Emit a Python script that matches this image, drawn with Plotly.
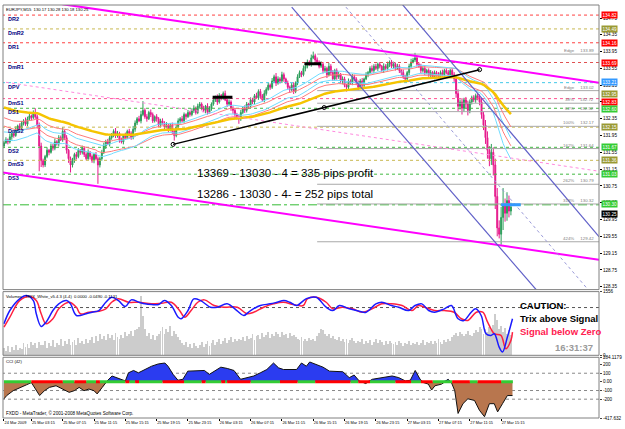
import numpy as np
import plotly.graph_objects as go

# ---------------- data ----------------
symbol_title = "EURJPY,M15  130.17 130.28 130.18 130.25"
x_tick_bars = [0, 14, 30, 46, 62, 78, 94, 110, 126, 142, 158, 174, 190, 206, 222, 238, 254]
x_tick_labels = ["24 Mar 2009", "25 Mar 03:15", "25 Mar 07:15", "25 Mar 11:15", "25 Mar 15:15",
                 "25 Mar 19:15", "25 Mar 23:15", "26 Mar 03:15", "26 Mar 07:15", "26 Mar 11:15",
                 "26 Mar 15:15", "26 Mar 19:15", "26 Mar 23:15", "27 Mar 03:15", "27 Mar 07:15",
                 "27 Mar 11:15", "27 Mar 15:15"]

first_open = 131.70
closes = [
    131.78, 131.85, 131.80, 131.92, 132.00, 131.95, 132.10, 132.18, 132.12, 132.25,
    132.30, 132.22, 132.35, 132.42, 132.38, 132.48, 132.40, 132.20, 131.70, 131.35,
    131.25, 131.45, 131.60, 131.55, 131.70, 131.65, 131.80, 131.75, 131.90, 131.85,
    132.05, 131.90, 131.60, 131.40, 131.25, 131.35, 131.50, 131.45, 131.60, 131.55,
    131.65, 131.50, 131.40, 131.55, 131.45, 131.35, 131.50, 131.40, 131.25, 131.40,
    131.55, 131.70, 131.80, 131.75, 131.90, 131.95, 132.05, 131.95, 132.00, 131.85,
    131.80, 131.95, 131.90, 132.05, 132.00, 131.90, 132.10, 132.25, 132.35, 132.30,
    132.45, 132.55, 132.40, 132.35, 132.50, 132.45, 132.30, 132.40, 132.35, 132.20,
    132.30, 132.25, 132.15, 132.20, 132.10, 132.20, 132.05, 131.95, 132.15, 132.30,
    132.35, 132.30, 132.45, 132.40, 132.50, 132.45, 132.55, 132.60, 132.50, 132.65,
    132.70, 132.60, 132.55, 132.65, 132.50, 132.60, 132.70, 132.80, 132.85, 132.75,
    132.90, 132.85, 132.95, 132.80, 132.70, 132.75, 132.60, 132.55, 132.45, 132.40,
    132.35, 132.50, 132.60, 132.55, 132.70, 132.65, 132.80, 132.75, 132.90, 132.85,
    133.00, 132.90, 132.80, 132.95, 133.05, 133.15, 133.10, 133.25, 133.35, 133.20,
    133.30, 133.25, 133.40, 133.30, 133.20, 133.10, 133.05, 133.15, 133.00, 133.20,
    133.35, 133.45, 133.40, 133.55, 133.60, 133.70, 133.65, 133.80, 133.85, 133.75,
    133.70, 133.60, 133.65, 133.50, 133.55, 133.40, 133.60, 133.45, 133.30, 133.50,
    133.35, 133.40, 133.25, 133.30, 133.15, 133.10, 133.25, 133.20, 133.35, 133.30,
    133.20, 133.10, 133.25, 133.15, 133.30, 133.40, 133.45, 133.55, 133.50, 133.60,
    133.55, 133.65, 133.60, 133.50, 133.60, 133.55, 133.65, 133.70, 133.60, 133.65,
    133.55, 133.60, 133.50, 133.45, 133.35, 133.30, 133.45, 133.60, 133.70, 133.75,
    133.80, 133.65, 133.60, 133.50, 133.55, 133.45, 133.50, 133.40, 133.45, 133.35,
    133.45, 133.40, 133.35, 133.45, 133.40, 133.50, 133.45, 133.40, 133.50, 133.40,
    133.30, 132.95, 132.65, 132.75, 132.60, 132.80, 132.70, 132.55, 132.75, 132.85,
    132.80, 132.90, 132.85, 132.75, 132.45, 132.20, 131.90, 131.60, 131.40, 131.55,
    131.25, 130.50, 129.75, 129.60, 130.00, 130.30, 130.10, 130.40, 130.15, 130.25,
]
up_wick_pips = [
    4, 6, 3, 8, 5, 4, 7, 3, 6, 5, 4, 8, 5, 6, 3, 7, 12, 5, 6, 8,
    5, 4, 7, 3, 6, 5, 8, 4, 6, 5, 10, 4, 6, 3, 5, 7, 4, 6, 5, 3,
    6, 4, 5, 7, 3, 5, 4, 6, 5, 4, 6, 8, 5, 7, 4, 6, 5, 8, 6, 4,
    5, 3, 7, 4, 6, 5, 8, 6, 4, 7, 9, 22, 5, 6, 4, 7, 5, 3, 6, 4,
    5, 6, 4, 7, 3, 5, 6, 4, 5, 6, 4, 7, 5, 3, 6, 4, 5, 7, 4, 6,
    5, 4, 6, 3, 7, 5, 4, 6, 5, 8, 6, 4, 5, 7, 3, 6, 4, 5, 6, 4,
    5, 6, 4, 7, 5, 3, 6, 5, 4, 7, 5, 6, 4, 8, 5, 6, 4, 7, 5, 9,
    6, 4, 7, 5, 3, 6, 4, 5, 7, 4, 6, 5, 4, 7, 5, 6, 4, 8, 10, 5,
    6, 4, 7, 5, 6, 4, 8, 5, 6, 4, 5, 7, 4, 6, 5, 3, 6, 4, 7, 5,
    4, 6, 5, 7, 3, 6, 4, 5, 7, 5, 6, 4, 5, 3, 7, 5, 6, 4, 5, 6,
    4, 6, 5, 3, 7, 5, 4, 6, 8, 5, 12, 5, 4, 6, 5, 7, 4, 5, 6, 4,
    5, 4, 6, 5, 7, 4, 5, 6, 4, 5, 6, 8, 10, 6, 9, 5, 7, 8, 6, 5,
    6, 5, 7, 8, 10, 6, 12, 15, 10, 20, 12, 15, 20, 18, 25, 40, 15, 20, 12, 10,
]
down_wick_pips = [
    5, 3, 6, 4, 7, 5, 3, 6, 4, 5, 6, 4, 5, 3, 7, 4, 5, 8, 60, 15,
    6, 5, 4, 7, 3, 6, 5, 4, 6, 3, 5, 6, 8, 10, 18, 6, 5, 7, 4, 6,
    5, 6, 4, 3, 7, 5, 6, 4, 45, 6, 5, 4, 7, 3, 6, 5, 4, 6, 5, 7,
    4, 6, 5, 3, 7, 5, 4, 6, 5, 3, 6, 4, 5, 7, 3, 6, 5, 4, 7, 5,
    6, 4, 5, 3, 7, 5, 6, 12, 4, 5, 6, 4, 5, 7, 3, 5, 4, 6, 5, 4,
    6, 5, 4, 7, 5, 3, 6, 4, 5, 7, 4, 6, 5, 3, 7, 5, 6, 8, 10, 7,
    12, 5, 4, 6, 5, 7, 4, 5, 6, 3, 5, 7, 4, 6, 5, 3, 6, 4, 5, 7,
    4, 6, 5, 7, 3, 6, 8, 5, 6, 4, 5, 3, 6, 4, 7, 5, 4, 6, 3, 5,
    6, 5, 4, 7, 5, 8, 4, 6, 5, 4, 7, 5, 6, 8, 5, 10, 6, 4, 5, 6,
    5, 7, 4, 6, 5, 3, 6, 4, 5, 7, 4, 6, 5, 3, 6, 4, 5, 7, 4, 6,
    5, 4, 6, 7, 5, 8, 4, 6, 5, 3, 5, 6, 4, 7, 5, 6, 4, 5, 7, 4,
    6, 5, 4, 7, 5, 6, 4, 5, 6, 8, 7, 10, 12, 8, 15, 9, 10, 12, 7, 6,
    5, 7, 6, 8, 10, 12, 15, 20, 18, 15, 25, 30, 20, 10, 25, 30, 20, 18, 15, 10,
]
volumes = [
    180, 120, 240, 90, 210, 150, 260, 130, 200, 170, 310, 220, 280, 190, 340, 250, 300, 180, 330, 270,
    260, 350, 200, 300, 240, 380, 210, 320, 270, 400, 230, 360, 290, 410, 250, 330, 380, 270, 440, 300,
    350, 280, 420, 320, 380, 450, 300, 480, 360, 520, 410, 470, 390, 540, 430, 500, 380, 560, 450, 420,
    510, 440, 580, 470, 530, 600, 490, 620, 650, 700, 1450, 980, 640, 480, 560, 420, 510, 390, 470, 540,
    600, 700, 520, 640, 580, 720, 490, 610, 530, 450, 380, 300, 260, 330, 220, 280, 190, 310, 240, 200,
    260, 330, 220, 290, 350, 240, 300, 380, 270, 340, 410, 290, 360, 430, 310, 380, 450, 330, 400, 360,
    420, 380, 460, 350, 490, 400, 440, 520, 380, 470, 500, 420, 550, 460, 510, 580, 440, 530, 490, 570,
    520, 460, 590, 500, 540, 430, 560, 480, 510, 450, 420, 380, 460, 350, 410, 370, 440, 390, 420, 360,
    480, 560, 650, 620, 540, 470, 520, 430, 490, 400, 380, 450, 360, 420, 340, 400, 320, 380, 440, 350,
    300, 370, 330, 410, 280, 360, 310, 390, 270, 340, 420, 300, 380, 330, 260, 350, 290, 370, 310, 280,
    330, 270, 350, 300, 240, 320, 280, 360, 250, 310, 290, 340, 260, 310, 380, 270, 330, 300, 350, 280,
    360, 310, 400, 340, 290, 380, 330, 420, 370, 450, 500, 560, 480, 590, 520, 470, 540, 600, 510, 480,
    550, 620, 580, 700, 660, 520, 640, 580, 700, 620, 760, 1020, 860, 640, 720, 580, 680, 540, 620, 500,
]

# moving averages (EMA periods) and their starting values read at the left edge
ema_fast_span, ema_mid_span, ema_slow_span = 34, 45, 89
ema_fast_seed_high, ema_fast_seed_low = 132.05, 131.85
ema_mid_seed_high, ema_mid_seed_low = 132.40, 132.20
ema_slow_seed = 132.64

# daily pivots
pivot_names = ["DR2", "DmR2", "DR1", "DmR1", "DPV", "DmS1", "DS1", "DmS2", "DS2", "DmS3", "DS3"]
pivot_prices = [134.82, 134.49, 134.16, 133.69, 133.21, 132.83, 132.60, 132.15, 131.67, 131.36, 131.03]
pivot_colors = ["#ff4040", "#c8b850", "#ff4040", "#e05050", "#40c8e8", "#ff5090",
                "#40b840", "#c8b850", "#40b840", "#c8b850", "#40b840"]

# price tags on the right scale
tag_prices = [134.82, 134.49, 134.16, 133.69, 133.21, 132.95, 132.83, 132.60, 132.15, 131.67, 131.36, 131.03, 130.30, 130.25]
tag_colors = ["#ff0000", "#999933", "#ff0000", "#ff0000", "#3399ff", "#999933", "#ff0000",
              "#33cc33", "#999933", "#33cc33", "#999933", "#33cc33", "#33cc33", "#000000"]
tag_shift = [0, 0, 0, 0, 1, 0, -3, -1, 0, 0, 0, 0, 1, -7]

# fibonacci expansion levels
fib_names = ["Edge", "Edge", "38%", "62%", "100%", "162%", "262%", "318%", "424%"]
fib_prices = [133.89, 133.02, 132.72, 132.52, 132.17, 131.64, 130.79, 130.32, 129.42]
fib_start_bar = 160

trade_level = 130.30

# drawn trend lines: (bar0, price0, bar1, price1)
magenta_upper = (29.8, 135.08, 304, 133.21)
magenta_lower = (-2, 131.08, 304, 128.99)
pink_dotted = (-2, 133.24, 304, 131.10)
black_trend = (86.4, 131.74, 243, 133.52)
black_trend_marks_bar = [86.4, 163.6, 243]
blue_channel_a = (147, 135.01, 273.2, 128.21)
blue_channel_b = (202.5, 135.13, 304, 129.54)
blue_channel_mid = (174.7, 135.01, 297.5, 128.33)
black_marks = [(106.6, 116.7, 132.86), (153.5, 162.0, 133.66)]
blue_mark = (254, 264, 130.30)

profit_lines = ["13369 - 13030 - 4 = 335 pips profit", "13286 - 13030 - 4- = 252 pips total"]
profit_bar = 98
profit_prices = [131.05, 130.56]

# TRIX / signal readings
trix_bars = [0, 3, 8, 11.5, 15, 16.5, 19, 21.5, 25, 28, 32, 34, 37, 42, 45, 48.5, 52, 55, 58.5, 62,
             65, 69, 72, 75.5, 79, 82, 85.5, 89, 90.5, 94, 97, 100.5, 105.5, 109, 114, 119, 122.5, 126, 131, 136,
             139.5, 143, 146, 149.5, 154.5, 159.5, 164.6, 168, 171.4, 176.4, 180, 185, 190, 193, 198, 201.7, 206.7, 210, 213.5, 217,
             220, 225, 228.6, 232, 235, 238.7, 241, 243.8, 246.3, 248.8, 250.5, 253, 254.7, 257.2, 259.8]
trix_vals = [-16.3, -3, 8.7, 12, 7, -6.3, -19, -14.7, -3, 3.7, 7, 3.7, -8, -6.3, -4.7, -3, 5.3, 10.3, 7, 1,
             7.7, 5.3, 3.7, 3, 3, 7, 2, -9.7, -11.3, -3, 8.7, 7, 0.3, 0.3, 3.7, -3, -8, -3, 2, 3.7,
             5.3, 7, 5.3, 2, 9, 10.3, 0.3, -3, 2, -1.3, -3, -4.7, 3.7, 5.3, 2, 0.3, -3, 2, 3.7, -3,
             -4.7, -1.3, 2, -11.3, -13, -4.7, -1.3, -8, -26.3, -28, -26.3, -39.7, -44.7, -29.7, -11.3]
sig_bars = [0, 3, 8, 13, 16.5, 19, 21.5, 25, 28, 33.3, 37, 39, 43.4, 48.5, 52, 55, 58.5, 63.6, 68.7, 75.4,
            80.5, 85.5, 89.7, 92.3, 95.6, 99, 102.4, 107.4, 112.5, 119.2, 124.2, 127.6, 132.7, 137.7, 142.8, 147.8, 152.9, 155, 159.6, 164.6,
            168, 173, 178, 183, 188, 193, 198, 203.4, 208.4, 211.8, 215, 220, 225, 230, 233.7, 237, 241.3, 244.6, 247.1, 250.5,
            253.9, 256.4, 259, 259.8]
sig_vals = [-19.7, -9.7, 7, 11, 7, -6.3, -16.3, -11.3, -1.3, 5.3, 0.3, -6.3, -4.7, -3.7, -1.3, 5.3, 8.7, 5.3, 5.3, 3.7,
            4.3, 5.3, -3, -9.7, -3, 5.3, 7.7, 2, 0.3, 0.3, -6.3, -4.7, 0.3, 3.7, 5.3, 3, 2, 8.7, 10.3, 5.3,
            -1.3, 0.3, -1.3, -4.7, -1.3, 3.7, 3.7, 2, -3, 2, 0.3, -3, -3, -4.7, -11.3, -13, -4.7, -4.7, -14.7, -26.3,
            -28, -41.3, -33, -24.7]
volume_max_label = 1556

# CCI(42) readings
cci_bars = [0, 1.4, 4.7, 8.1, 11.5, 14, 15.7, 18.2, 20.7, 23.2, 26.6, 30, 33.3, 35.9, 38.4, 40.9, 43.4, 46, 47.6, 50.2,
            52.7, 55.2, 57.7, 60.3, 62, 63.6, 66.2, 68.7, 72, 75.4, 78.8, 82.2, 83.8, 86.4, 88.9, 91.4, 93.9, 99, 102.4, 104.9,
            107.4, 110.8, 114.1, 117.5, 120.9, 124.2, 127.6, 131, 134.3, 137.7, 140.3, 142.8, 146.1, 149.5, 152, 154.5, 156.2, 159.6, 163, 166.3,
            169.7, 173.1, 176.4, 178.9, 181.5, 184.8, 188.2, 193.3, 198.3, 201.7, 205.1, 207.6, 210.1, 212.6, 214.3, 216.8, 218.5, 220.2, 223.6, 226.9,
            228.6, 230.3, 232, 234.5, 237, 240.4, 242.9, 245.5, 248, 250.5, 252.2, 254.7, 257.2, 259.8]
cci_vals = [-196, -158, -102, -64, -34, -8, -64, -158, -102, -64, -45, -83, -121, -102, -64, -102, -83, -102, -139, -64,
            11, 68, 49, 30, 11, 105, 132, 105, 143, 181, 207, 218, 181, 87, 19, 30, 124, 132, 132, 87,
            124, 170, 155, 132, 30, 49, 68, 105, 143, 218, 162, 143, 143, 143, 218, 181, 230, 200, 170, 124,
            124, 117, 49, 79, 11, -19, 30, 49, 68, 49, 11, 19, 132, 30, -8, -26, -94, -45, -26, 30,
            -8, -102, -365, -252, -196, -215, -328, -403, -252, -252, -347, -252, -158, -158]
cci_top, cci_bottom = 284.1179, -417.632
cci_band_starts = [0, 14, 30, 36, 42, 47, 49, 62, 64, 67, 69, 81, 92, 101, 103, 111, 113, 114, 126, 141,
                   150, 159, 177, 181, 187, 200, 208, 213, 219, 229, 238, 242, 254]
cci_band_end = 260

# ---------------- derived ----------------
n = len(closes)
bars = np.arange(n)
c = np.array(closes)
o = np.array([first_open] + closes[:-1])
hi = np.maximum(o, c) + np.array(up_wick_pips) * 0.01
lo = np.minimum(o, c) - np.array(down_wick_pips) * 0.01


def ema(series, span, seed):
    a = 2.0 / (span + 1)
    out, e = [], seed
    for v in series:
        e = e + a * (v - e)
        out.append(e)
    return out


FONT = "Liberation Sans, Arial, sans-serif"
W, H = 625, 429
ML, MR, MT, MB = 3, 19, 3, 11
PH = H - MT - MB
PW = W - ML - MR


def frac(ypix):
    return (H - MB - ypix) / PH


dom_price = [frac(289), 1.0]
dom_vol = [frac(355), frac(291)]
dom_cci = [0.0, frac(357)]
X_RANGE = [-0.5, 304]

fig = go.Figure()


def seg(p, **kw):
    return go.Scatter(x=[p[0], p[2]], y=[p[1], p[3]], mode="lines", hoverinfo="skip",
                      showlegend=False, **kw)


# pivot lines
for name, pr, col in zip(pivot_names, pivot_prices, pivot_colors):
    fig.add_trace(go.Scatter(x=[-1, 305], y=[pr, pr], mode="lines", line=dict(color=col, width=1, dash="dot"),
                             hoverinfo="skip", showlegend=False))
# trade level
fig.add_trace(go.Scatter(x=[-1, 305], y=[trade_level, trade_level], mode="lines",
                         line=dict(color="#33bb33", width=1, dash="dashdot"), hoverinfo="skip", showlegend=False))
# fib lines
for pr in fib_prices:
    fig.add_trace(go.Scatter(x=[fib_start_bar, 305], y=[pr, pr], mode="lines",
                             line=dict(color="#a8a8a8", width=1), hoverinfo="skip", showlegend=False))

# candles
fig.add_trace(go.Candlestick(x=bars, open=o, high=hi, low=lo, close=c,
                             increasing=dict(line=dict(color="#2e9e5b", width=1), fillcolor="#2e9e5b"),
                             decreasing=dict(line=dict(color="#e6198c", width=1), fillcolor="#e6198c"),
                             whiskerwidth=0, hoverinfo="skip", showlegend=False))

# moving averages
fig.add_trace(go.Scatter(x=bars, y=ema(hi, ema_mid_span, ema_mid_seed_high), mode="lines",
                         line=dict(color="#ff7a7a", width=1), hoverinfo="skip", showlegend=False))
fig.add_trace(go.Scatter(x=bars, y=ema(lo, ema_mid_span, ema_mid_seed_low), mode="lines",
                         line=dict(color="#ff7a7a", width=1), hoverinfo="skip", showlegend=False))
fig.add_trace(go.Scatter(x=bars, y=ema(hi, ema_fast_span, ema_fast_seed_high), mode="lines",
                         line=dict(color="#70dcff", width=1), hoverinfo="skip", showlegend=False))
fig.add_trace(go.Scatter(x=bars, y=ema(lo, ema_fast_span, ema_fast_seed_low), mode="lines",
                         line=dict(color="#70dcff", width=1), hoverinfo="skip", showlegend=False))
fig.add_trace(go.Scatter(x=bars, y=ema(c, ema_slow_span, ema_slow_seed), mode="lines",
                         line=dict(color="#f5c400", width=2.5), hoverinfo="skip", showlegend=False))

# drawn lines
fig.add_trace(seg(pink_dotted, line=dict(color="#ff88dd", width=1, dash="dot")))
fig.add_trace(seg(magenta_upper, line=dict(color="#ff00ff", width=2)))
fig.add_trace(seg(magenta_lower, line=dict(color="#ff00ff", width=2)))
fig.add_trace(seg(blue_channel_a, line=dict(color="#6060c8", width=1.2)))
fig.add_trace(seg(blue_channel_b, line=dict(color="#6060c8", width=1.2)))
fig.add_trace(seg(blue_channel_mid, line=dict(color="#9a9ad8", width=1, dash="dot")))
fig.add_trace(seg(black_trend, line=dict(color="#000000", width=1.5)))
bt_slope = (black_trend[3] - black_trend[1]) / (black_trend[2] - black_trend[0])
fig.add_trace(go.Scatter(x=black_trend_marks_bar,
                         y=[black_trend[1] + bt_slope * (b - black_trend[0]) for b in black_trend_marks_bar],
                         mode="markers", marker=dict(symbol="circle-open", size=4, color="#000000", line=dict(width=1)),
                         hoverinfo="skip", showlegend=False))
for b0, b1, pr in black_marks:
    fig.add_trace(go.Scatter(x=[b0, b1], y=[pr, pr], mode="lines", line=dict(color="#000000", width=3),
                             hoverinfo="skip", showlegend=False))
fig.add_trace(go.Scatter(x=[blue_mark[0], blue_mark[1]], y=[blue_mark[2], blue_mark[2]], mode="lines",
                         line=dict(color="#3399ff", width=3), hoverinfo="skip", showlegend=False))

# volume + TRIX panel
fig.add_trace(go.Bar(x=bars, y=volumes, marker=dict(color="#cccccc", line=dict(width=0)), width=0.45,
                     yaxis="y2", hoverinfo="skip", showlegend=False))
fig.add_trace(go.Scatter(x=[-1, 305], y=[0, 0], mode="lines", line=dict(color="#555555", width=1, dash="dot"),
                         yaxis="y4", hoverinfo="skip", showlegend=False))
fig.add_trace(go.Scatter(x=sig_bars, y=sig_vals, mode="lines", line=dict(color="#ff2040", width=1.5, shape="spline"),
                         yaxis="y4", hoverinfo="skip", showlegend=False))
fig.add_trace(go.Scatter(x=trix_bars, y=trix_vals, mode="lines", line=dict(color="#1a1aff", width=1.5, shape="spline"),
                         yaxis="y4", hoverinfo="skip", showlegend=False))

# CCI panel
cci_arr = np.array(cci_vals, dtype=float)
for lvl in [100, -100, -200]:
    fig.add_trace(go.Scatter(x=[-1, 305], y=[lvl, lvl], mode="lines", line=dict(color="#888888", width=1, dash="dot"),
                             yaxis="y3", hoverinfo="skip", showlegend=False))
fig.add_trace(go.Scatter(x=cci_bars, y=np.maximum(cci_arr, 0), mode="lines", fill="tozeroy",
                         fillcolor="#2b3cf0", line=dict(width=0), yaxis="y3", hoverinfo="skip", showlegend=False))
fig.add_trace(go.Scatter(x=cci_bars, y=np.minimum(cci_arr, 0), mode="lines", fill="tozeroy",
                         fillcolor="#b8764e", line=dict(width=0), yaxis="y3", hoverinfo="skip", showlegend=False))
fig.add_trace(go.Scatter(x=cci_bars, y=cci_arr, mode="lines", line=dict(color="#111111", width=1),
                         yaxis="y3", hoverinfo="skip", showlegend=False))
gx, gy, rx, ry = [], [], [], []
ends = cci_band_starts[1:] + [cci_band_end]
for k, (s, e) in enumerate(zip(cci_band_starts, ends)):
    if k % 2 == 0:
        gx += [s, e, None]; gy += [0, 0, None]
    else:
        rx += [s, e, None]; ry += [0, 0, None]
fig.add_trace(go.Scatter(x=gx, y=gy, mode="lines", line=dict(color="#33cc33", width=3), yaxis="y3",
                         hoverinfo="skip", showlegend=False))
fig.add_trace(go.Scatter(x=rx, y=ry, mode="lines", line=dict(color="#ff0000", width=3), yaxis="y3",
                         hoverinfo="skip", showlegend=False))

# ---------------- annotations ----------------
ann = []
ann.append(dict(text=symbol_title, xref="paper", yref="paper", x=0.004, y=1, xanchor="left", yanchor="top",
                showarrow=False, font=dict(family=FONT, size=4.2, color="#000000"), borderpad=0, yshift=-1))
for name, pr in zip(pivot_names, pivot_prices):
    ann.append(dict(text="<b>" + name + "</b>", xref="paper", yref="y", x=0.006, y=pr, xanchor="left",
                    yanchor="top", showarrow=False, font=dict(family=FONT, size=5.5, color="#000080"), borderpad=0))
for pr, col, sh in zip(tag_prices, tag_colors, tag_shift):
    ann.append(dict(text=f"{pr:.2f}", xref="paper", yref="y", x=1, y=pr, xanchor="left", yanchor="middle",
                    showarrow=False, bgcolor=col, font=dict(family=FONT, size=4.6, color="#ffffff"),
                    borderpad=0.5, xshift=2, yshift=sh))
for name, pr in zip(fib_names, fib_prices):
    ann.append(dict(text=f"{name}&nbsp;&nbsp;&nbsp;&nbsp;&nbsp;{pr:.2f}", xref="x", yref="y", x=302, y=pr,
                    xanchor="right", yanchor="bottom", showarrow=False,
                    font=dict(family=FONT, size=4.4, color="#808080"), borderpad=0))
for txt, pr in zip(profit_lines, profit_prices):
    ann.append(dict(text=txt, xref="x", yref="y", x=profit_bar, y=pr, xanchor="left", yanchor="middle",
                    showarrow=False, font=dict(family=FONT, size=11.5, color="#000000"), borderpad=0))
ann.append(dict(text="Volumes   TRIX_White_v5.4.3 (4-4)  0.0000 -0.0490 -0.1131", xref="paper", yref="paper",
                x=0.004, y=dom_vol[1], xanchor="left", yanchor="top", showarrow=False,
                font=dict(family=FONT, size=4.2, color="#000000"), borderpad=0, yshift=-1))
ann.append(dict(text="CCI (42)", xref="paper", yref="paper", x=0.004, y=dom_cci[1], xanchor="left",
                yanchor="top", showarrow=False, font=dict(family=FONT, size=4.2, color="#000000"), borderpad=0, yshift=-1))
ann.append(dict(text="FXDD - MetaTrader, © 2001-2008 MetaQuotes Software Corp.", xref="paper", yref="paper",
                x=0.004, y=0, xanchor="left", yanchor="bottom", showarrow=False,
                font=dict(family=FONT, size=4.6, color="#000000"), borderpad=0, yshift=1))
xp = (525 - ML) / PW
ann.append(dict(text="<b>CAUTION:</b>", xref="paper", yref="paper", x=xp, y=frac(305), xanchor="left",
                yanchor="middle", showarrow=False, font=dict(family=FONT, size=9.5, color="#000000"), borderpad=0))
ann.append(dict(text="<b>Trix above Signal</b>", xref="paper", yref="paper", x=xp, y=frac(318), xanchor="left",
                yanchor="middle", showarrow=False, font=dict(family=FONT, size=9.5, color="#000000"), borderpad=0))
ann.append(dict(text="<b>Signal below Zero</b>", xref="paper", yref="paper", x=xp, y=frac(331), xanchor="left",
                yanchor="middle", showarrow=False, font=dict(family=FONT, size=9.5, color="#ff2050"), borderpad=0))
ann.append(dict(text="<b>16:31:37</b>", xref="paper", yref="paper", x=(601 - ML) / PW, y=frac(347.5),
                xanchor="right", yanchor="middle", showarrow=False, font=dict(family=FONT, size=9.5, color="#9a9a9a"),
                borderpad=0))

shapes = []
for d in [dom_price, dom_vol, dom_cci]:
    shapes.append(dict(type="rect", xref="paper", yref="paper", x0=0, x1=1, y0=d[0], y1=d[1],
                       line=dict(color="#808080", width=1), layer="above"))

axis_common = dict(showgrid=False, zeroline=False, showline=False)
price_ticks = [round(128.35 + 0.4 * k, 2) for k in range(17)]
fig.update_layout(
    width=W, height=H, margin=dict(l=ML, r=MR, t=MT, b=MB),
    paper_bgcolor="#ffffff", plot_bgcolor="#ffffff", showlegend=False,
    font=dict(family=FONT, size=5, color="#000000"),
    bargap=0,
    xaxis=dict(domain=[0, 1], range=X_RANGE, anchor="y3", tickvals=x_tick_bars, ticktext=x_tick_labels,
               tickangle=0, ticks="outside", ticklen=2, tickcolor="#000000", tickfont=dict(family=FONT, size=3.9),
               ticklabelposition="outside right", rangeslider=dict(visible=False), fixedrange=True, **axis_common),
    yaxis=dict(domain=dom_price, range=[128.28, 135.06], side="right", anchor="x", tickvals=price_ticks,
               ticktext=[f"{t:.2f}" for t in price_ticks], ticks="outside", ticklen=2, tickcolor="#000000",
               tickfont=dict(family=FONT, size=4.6), **axis_common),
    yaxis2=dict(domain=dom_vol, range=[0, volume_max_label], side="right", anchor="x",
                tickvals=[0, volume_max_label], ticktext=["0", str(volume_max_label)], ticks="outside", ticklen=2,
                tickfont=dict(family=FONT, size=4.6), **axis_common),
    yaxis4=dict(overlaying="y2", range=[-48, 16], visible=False, anchor="x"),
    yaxis3=dict(domain=dom_cci, range=[cci_bottom, cci_top], side="right", anchor="x",
                tickvals=[cci_top, 200, 100, 0, -100, -200, cci_bottom],
                ticktext=["284.1179", "200", "100", "0.00", "-100", "-200", "-417.632"],
                ticks="outside", ticklen=2, tickfont=dict(family=FONT, size=4.6), **axis_common),
    annotations=ann, shapes=shapes,
)

fig.write_html("out.html")
